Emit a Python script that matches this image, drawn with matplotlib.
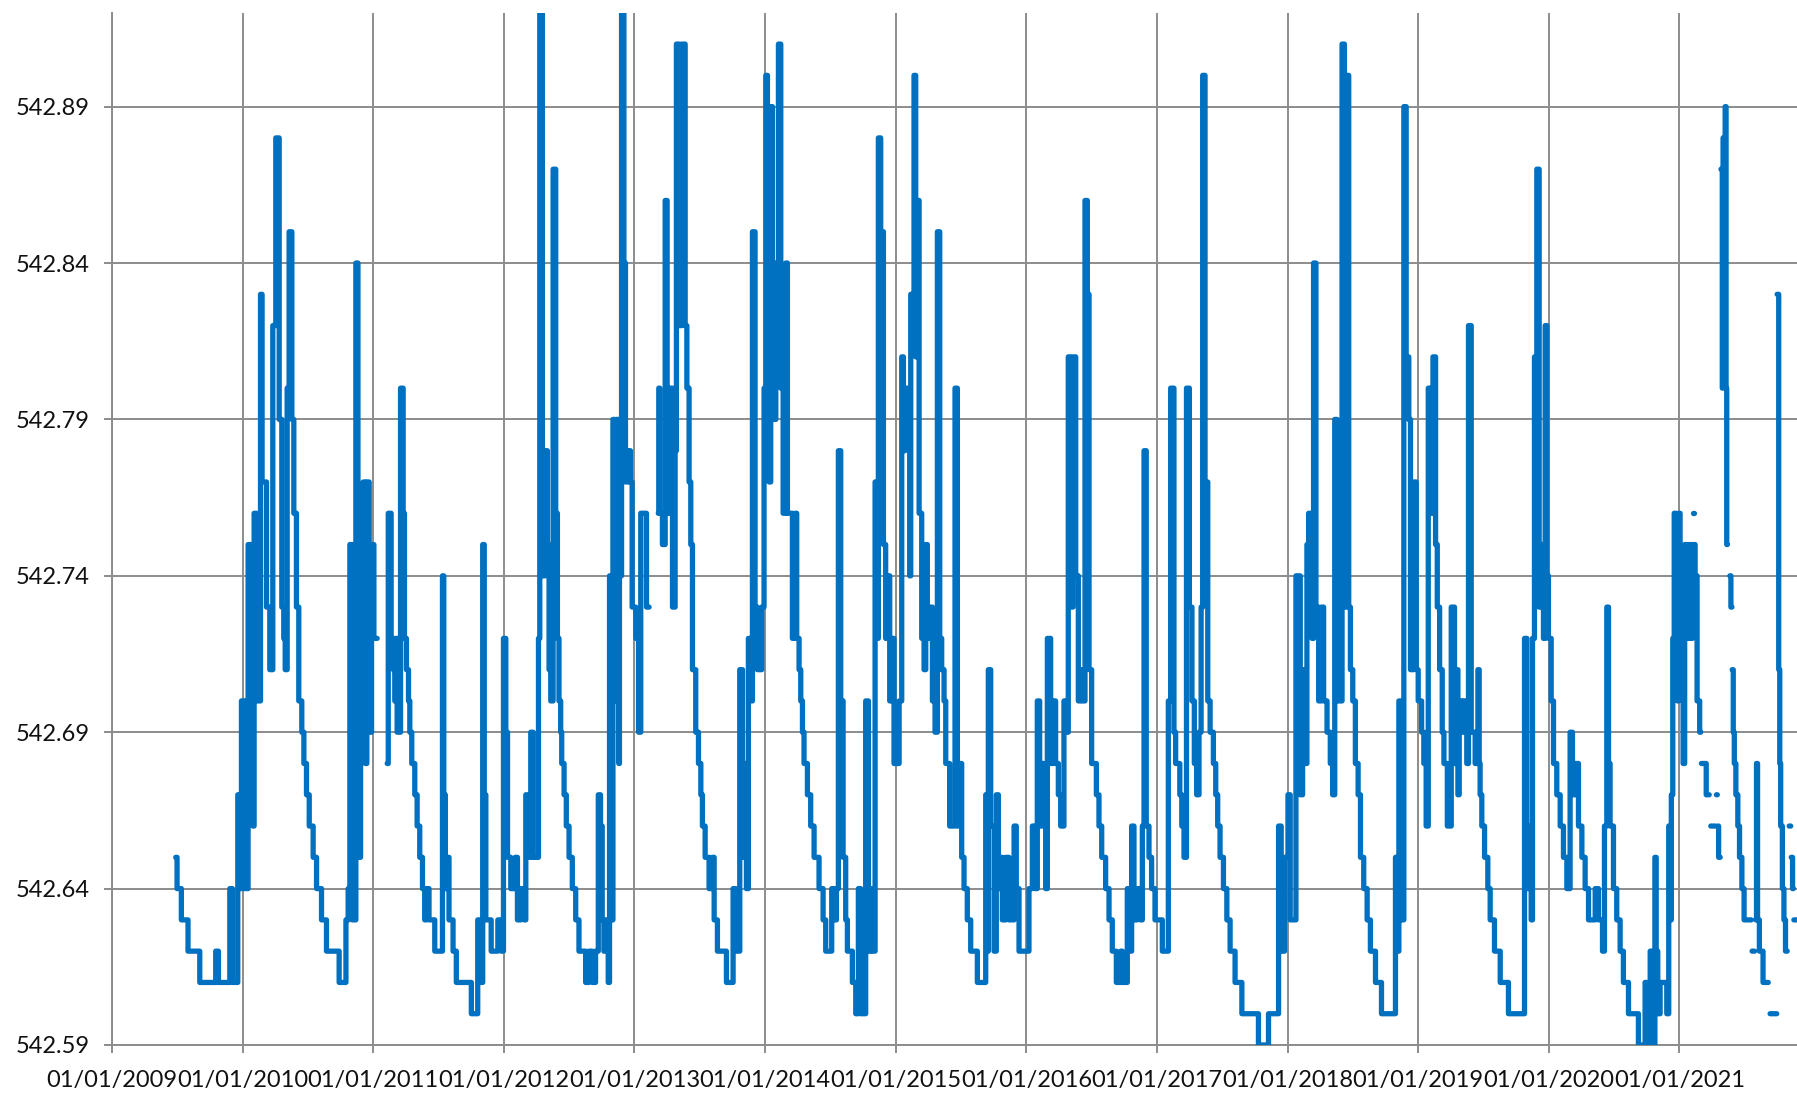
import numpy as np
import matplotlib.pyplot as plt

# water level readings: (decimal year, level in m); None = no data
y2009 = [(2009.488, 542.65), (2009.498, 542.64), (2009.531, 542.63), (2009.582, 542.62),
         (2009.672, 542.61), (2009.794, 542.62), (2009.815, 542.61), (2009.902, 542.64),
         (2009.922, 542.61), (2009.963, 542.67), (2009.978, 542.64), (2009.991, 542.70)]

y2010 = [(2010.004, 542.64), (2010.019, 542.70), (2010.032, 542.64), (2010.042, 542.75),
         (2010.060, 542.67), (2010.078, 542.66), (2010.088, 542.76), (2010.106, 542.70),
         (2010.137, 542.83), (2010.149, 542.77), (2010.183, 542.73), (2010.208, 542.71),
         (2010.231, 542.82), (2010.254, 542.88), (2010.280, 542.79), (2010.300, 542.73),
         (2010.315, 542.72), (2010.326, 542.71), (2010.341, 542.80), (2010.356, 542.85),
         (2010.377, 542.79), (2010.392, 542.76), (2010.412, 542.73), (2010.430, 542.70),
         (2010.453, 542.69), (2010.469, 542.68), (2010.489, 542.67), (2010.510, 542.66),
         (2010.540, 542.65), (2010.566, 542.64), (2010.604, 542.63), (2010.642, 542.62),
         (2010.739, 542.61), (2010.791, 542.63), (2010.808, 542.64), (2010.821, 542.75),
         (2010.839, 542.63), (2010.867, 542.84), (2010.883, 542.65), (2010.903, 542.75),
         (2010.923, 542.77), (2010.939, 542.68), (2010.951, 542.77), (2010.969, 542.69),
         (2010.987, 542.72)]

y2011 = [(2011.000, 542.75), (2011.005, 542.72), (2011.030, None), (2011.107, 542.68),
         (2011.115, 542.76), (2011.137, 542.72), (2011.153, 542.71), (2011.165, 542.70),
         (2011.173, 542.72), (2011.183, 542.69), (2011.209, 542.80), (2011.229, 542.76),
         (2011.239, 542.72), (2011.254, 542.71), (2011.270, 542.70), (2011.280, 542.69),
         (2011.295, 542.68), (2011.318, 542.67), (2011.336, 542.66), (2011.356, 542.65),
         (2011.377, 542.64), (2011.394, 542.63), (2011.407, 542.64), (2011.427, 542.63),
         (2011.471, 542.62), (2011.530, 542.74), (2011.540, 542.67), (2011.552, 542.64),
         (2011.565, 542.65), (2011.580, 542.63), (2011.611, 542.62), (2011.636, 542.61),
         (2011.751, 542.60), (2011.800, 542.63), (2011.822, 542.61), (2011.838, 542.75),
         (2011.850, 542.67), (2011.862, 542.63), (2011.903, 542.62), (2011.954, 542.63),
         (2011.980, 542.62), (2011.997, 542.72)]

y2012 = [(2012.015, 542.69), (2012.028, 542.65), (2012.053, 542.64), (2012.087, 542.65),
         (2012.104, 542.63), (2012.130, 542.64), (2012.155, 542.63), (2012.168, 542.67),
         (2012.188, 542.65), (2012.206, 542.69), (2012.224, 542.65), (2012.265, 542.72),
         (2012.275, 542.95), (2012.295, 542.74), (2012.316, 542.78), (2012.333, 542.75),
         (2012.346, 542.71), (2012.359, 542.70), (2012.377, 542.87), (2012.397, 542.76),
         (2012.410, 542.72), (2012.422, 542.70), (2012.435, 542.69), (2012.443, 542.68),
         (2012.461, 542.67), (2012.478, 542.66), (2012.499, 542.65), (2012.524, 542.64),
         (2012.550, 542.63), (2012.575, 542.62), (2012.626, 542.61), (2012.651, 542.62),
         (2012.677, 542.61), (2012.702, 542.62), (2012.723, 542.67), (2012.740, 542.66),
         (2012.753, 542.63), (2012.766, 542.62), (2012.784, 542.63), (2012.799, 542.61),
         (2012.809, 542.74), (2012.824, 542.63), (2012.835, 542.79), (2012.850, 542.70),
         (2012.860, 542.79), (2012.880, 542.68), (2012.885, 542.74), (2012.901, 542.95),
         (2012.919, 542.84), (2012.931, 542.77), (2012.957, 542.78), (2012.969, 542.77),
         (2012.982, 542.73)]

y2013 = [(2013.010, 542.72), (2013.031, 542.69), (2013.048, 542.76), (2013.092, 542.73),
         (2013.112, None), (2013.182, 542.76),
         (2013.186, 542.80), (2013.194, 542.76), (2013.214, 542.75), (2013.235, 542.86),
         (2013.250, 542.76), (2013.270, 542.80), (2013.291, 542.73), (2013.311, 542.78),
         (2013.321, 542.91), (2013.342, 542.82), (2013.362, 542.91), (2013.388, 542.82),
         (2013.401, 542.80), (2013.418, 542.77), (2013.431, 542.75), (2013.444, 542.71),
         (2013.469, 542.69), (2013.490, 542.68), (2013.508, 542.67), (2013.520, 542.66),
         (2013.541, 542.65), (2013.571, 542.64), (2013.597, 542.65), (2013.610, 542.63),
         (2013.635, 542.62), (2013.704, 542.61), (2013.755, 542.64), (2013.776, 542.62),
         (2013.806, 542.71), (2013.827, 542.65), (2013.847, 542.68), (2013.857, 542.64),
         (2013.872, 542.72), (2013.890, 542.70), (2013.903, 542.85), (2013.923, 542.73),
         (2013.941, 542.71), (2013.974, 542.73), (2013.992, 542.80)]

y2014 = [(2014.005, 542.90), (2014.018, 542.78), (2014.031, 542.77), (2014.043, 542.89),
         (2014.056, 542.79), (2014.082, 542.84), (2014.102, 542.91), (2014.120, 542.80),
         (2014.138, 542.76), (2014.158, 542.84), (2014.171, 542.76), (2014.209, 542.72),
         (2014.230, 542.76), (2014.242, 542.72), (2014.260, 542.71), (2014.273, 542.70),
         (2014.286, 542.69), (2014.298, 542.68), (2014.324, 542.67), (2014.349, 542.66),
         (2014.375, 542.65), (2014.413, 542.64), (2014.444, 542.63), (2014.464, 542.62),
         (2014.510, 542.64), (2014.528, 542.63), (2014.546, 542.64), (2014.561, 542.78),
         (2014.579, 542.70), (2014.597, 542.65), (2014.617, 542.63), (2014.630, 542.62),
         (2014.668, 542.61), (2014.694, 542.60), (2014.714, 542.64), (2014.732, 542.60),
         (2014.770, 542.70), (2014.791, 542.62), (2014.809, 542.64), (2014.821, 542.62),
         (2014.842, 542.77), (2014.852, 542.72), (2014.867, 542.88), (2014.885, 542.85),
         (2014.906, 542.75), (2014.923, 542.72), (2014.944, 542.74), (2014.954, 542.70),
         (2014.974, 542.72), (2014.987, 542.68)]

y2015 = [(2015.026, 542.70), (2015.046, 542.81), (2015.059, 542.78), (2015.071, 542.80),
         (2015.089, 542.79), (2015.107, 542.74), (2015.115, 542.83), (2015.140, 542.90),
         (2015.153, 542.81), (2015.166, 542.86), (2015.179, 542.76), (2015.199, 542.72),
         (2015.217, 542.71), (2015.230, 542.75), (2015.242, 542.73), (2015.255, 542.72),
         (2015.268, 542.73), (2015.281, 542.70), (2015.301, 542.69), (2015.319, 542.85),
         (2015.337, 542.72), (2015.352, 542.71), (2015.370, 542.70), (2015.383, 542.68),
         (2015.413, 542.66), (2015.454, 542.80), (2015.472, 542.66), (2015.490, 542.68),
         (2015.505, 542.65), (2015.523, 542.64), (2015.548, 542.63), (2015.574, 542.62),
         (2015.625, 542.61), (2015.689, 542.67), (2015.702, 542.62), (2015.709, 542.71),
         (2015.727, 542.66), (2015.753, 542.62), (2015.770, 542.67), (2015.786, 542.64),
         (2015.804, 542.65), (2015.816, 542.63), (2015.842, 542.65), (2015.867, 542.63),
         (2015.906, 542.66), (2015.923, 542.64), (2015.944, 542.62)]

y2016 = [(2016.020, 542.64), (2016.046, 542.66), (2016.066, 542.64), (2016.084, 542.70),
         (2016.102, 542.66), (2016.117, 542.68), (2016.135, 542.66), (2016.148, 542.64),
         (2016.161, 542.72), (2016.186, 542.68), (2016.204, 542.70), (2016.224, 542.68),
         (2016.245, 542.67), (2016.263, 542.66), (2016.288, 542.70), (2016.306, 542.69),
         (2016.321, 542.81), (2016.339, 542.73), (2016.357, 542.81), (2016.378, 542.74),
         (2016.398, 542.70), (2016.416, 542.71), (2016.429, 542.70), (2016.449, 542.86),
         (2016.467, 542.83), (2016.480, 542.71), (2016.500, 542.68), (2016.536, 542.67),
         (2016.556, 542.66), (2016.577, 542.65), (2016.607, 542.64), (2016.633, 542.63),
         (2016.658, 542.62), (2016.689, 542.61), (2016.722, 542.62), (2016.735, 542.61),
         (2016.773, 542.64), (2016.791, 542.62), (2016.806, 542.66), (2016.824, 542.63),
         (2016.849, 542.64), (2016.875, 542.63), (2016.888, 542.66), (2016.901, 542.78),
         (2016.918, 542.66), (2016.939, 542.65), (2016.959, 542.64), (2016.985, 542.63)]

y2017 = [(2017.041, 542.62), (2017.087, 542.70), (2017.105, 542.80), (2017.130, 542.69),
         (2017.143, 542.68), (2017.163, 542.68), (2017.175, 542.67), (2017.190, 542.66),
         (2017.207, 542.65), (2017.226, 542.80), (2017.248, 542.73), (2017.268, 542.70),
         (2017.286, 542.68), (2017.304, 542.67), (2017.322, 542.69), (2017.338, 542.73),
         (2017.350, 542.90), (2017.368, 542.77), (2017.389, 542.70), (2017.407, 542.69),
         (2017.432, 542.68), (2017.450, 542.67), (2017.465, 542.66), (2017.483, 542.65),
         (2017.509, 542.64), (2017.535, 542.63), (2017.560, 542.62), (2017.598, 542.61),
         (2017.650, 542.60), (2017.777, 542.59), (2017.854, 542.60), (2017.931, 542.66),
         (2017.951, 542.62), (2017.977, 542.65)]

y2018 = [(2018.003, 542.67), (2018.020, 542.63), (2018.064, 542.74), (2018.097, 542.67),
         (2018.115, 542.71), (2018.130, 542.68), (2018.148, 542.75), (2018.161, 542.76),
         (2018.187, 542.72), (2018.199, 542.84), (2018.217, 542.73), (2018.238, 542.70),
         (2018.258, 542.73), (2018.276, 542.70), (2018.302, 542.69), (2018.327, 542.68),
         (2018.345, 542.67), (2018.361, 542.79), (2018.379, 542.70), (2018.417, 542.91),
         (2018.435, 542.73), (2018.450, 542.90), (2018.468, 542.73), (2018.481, 542.71),
         (2018.499, 542.70), (2018.519, 542.68), (2018.540, 542.67), (2018.558, 542.65),
         (2018.583, 542.64), (2018.609, 542.63), (2018.634, 542.62), (2018.673, 542.61),
         (2018.719, 542.60), (2018.826, 542.65), (2018.839, 542.62), (2018.852, 542.70),
         (2018.872, 542.63), (2018.890, 542.89), (2018.908, 542.81), (2018.928, 542.79),
         (2018.941, 542.71), (2018.967, 542.77), (2018.985, 542.71)]

y2019 = [(2019.000, 542.70), (2019.026, 542.69), (2019.043, 542.68), (2019.061, 542.66),
         (2019.077, 542.80), (2019.095, 542.76), (2019.113, 542.81), (2019.133, 542.75),
         (2019.146, 542.73), (2019.164, 542.71), (2019.184, 542.69), (2019.197, 542.68),
         (2019.223, 542.66), (2019.253, 542.73), (2019.278, 542.68), (2019.289, 542.71),
         (2019.304, 542.67), (2019.314, 542.70), (2019.334, 542.69), (2019.347, 542.70),
         (2019.372, 542.68), (2019.385, 542.82), (2019.406, 542.69), (2019.436, 542.68),
         (2019.457, 542.71), (2019.467, 542.68), (2019.474, 542.67), (2019.487, 542.66),
         (2019.508, 542.65), (2019.533, 542.64), (2019.551, 542.63), (2019.584, 542.62),
         (2019.628, 542.61), (2019.691, 542.60), (2019.814, 542.72), (2019.832, 542.64),
         (2019.845, 542.66), (2019.865, 542.63), (2019.875, 542.72), (2019.890, 542.81),
         (2019.908, 542.87), (2019.926, 542.73), (2019.941, 542.75), (2019.959, 542.72),
         (2019.972, 542.82), (2019.985, 542.74), (2019.997, 542.72)]

y2020 = [(2020.018, 542.70), (2020.036, 542.68), (2020.061, 542.67), (2020.087, 542.66),
         (2020.112, 542.65), (2020.138, 542.64), (2020.163, 542.69), (2020.181, 542.67),
         (2020.202, 542.68), (2020.227, 542.66), (2020.253, 542.65), (2020.278, 542.64),
         (2020.304, 542.63), (2020.355, 542.64), (2020.380, 542.63), (2020.411, 542.62),
         (2020.426, 542.66), (2020.444, 542.73), (2020.457, 542.68), (2020.469, 542.66),
         (2020.495, 542.64), (2020.520, 542.63), (2020.546, 542.62), (2020.571, 542.61),
         (2020.610, 542.60), (2020.686, 542.59), (2020.737, 542.61), (2020.750, 542.59),
         (2020.776, 542.62), (2020.793, 542.59), (2020.812, 542.65), (2020.822, 542.62),
         (2020.834, 542.60), (2020.852, 542.61), (2020.903, 542.60), (2020.918, 542.66),
         (2020.930, 542.63), (2020.938, 542.67), (2020.949, 542.72), (2020.960, 542.76),
         (2020.975, 542.72), (2020.985, 542.70), (2020.993, 542.76)]

y2021 = [(2021.005, 542.73), (2021.013, 542.71), (2021.028, 542.68), (2021.040, 542.75),
         (2021.060, 542.72), (2021.072, 542.75), (2021.088, 542.72), (2021.100, 542.75),
         (2021.120, 542.74), (2021.135, 542.70), (2021.155, 542.69), (2021.163, None),
         (2021.168, 542.68), (2021.205, 542.67), (2021.228, None), (2021.240, 542.66),
         (2021.275, None), (2021.283, 542.67), (2021.290, None), (2021.295, 542.66),
         (2021.300, 542.65), (2021.312, None), (2021.318, 542.87), (2021.328, 542.80),
         (2021.334, 542.88), (2021.342, 542.82), (2021.350, 542.89), (2021.357, 542.80),
         (2021.362, 542.75), (2021.367, None), (2021.386, 542.74), (2021.394, 542.73),
         (2021.402, None), (2021.404, 542.71), (2021.412, 542.69), (2021.420, 542.68),
         (2021.432, 542.67), (2021.447, 542.66), (2021.460, 542.65), (2021.478, 542.64),
         (2021.495, 542.63), (2021.550, None), (2021.556, 542.62), (2021.575, None),
         (2021.585, 542.63), (2021.590, 542.68), (2021.598, 542.63), (2021.612, 542.62),
         (2021.640, 542.61), (2021.680, None), (2021.694, 542.60), (2021.745, None),
         (2021.748, 542.83), (2021.760, 542.71), (2021.768, 542.68), (2021.775, 542.66),
         (2021.788, 542.64), (2021.800, 542.63), (2021.812, 542.62), (2021.825, None),
         (2021.840, 542.66), (2021.852, None), (2021.856, 542.65), (2021.866, 542.64),
         (2021.872, None), (2021.876, 542.63), (2021.900, 542.63)]

# short isolated reading in 2021
stray_t = [2021.101, 2021.113]
stray_v = [542.76, 542.76]

years = list(range(2009, 2022))
xlabels = ['01/01/%d' % y for y in years]
yticks = [542.59, 542.64, 542.69, 542.74, 542.79, 542.84, 542.89]

series = y2009 + y2010 + y2011 + y2012 + y2013 + y2014 + y2015 + y2016 + \
    y2017 + y2018 + y2019 + y2020 + y2021
t = np.array([p[0] for p in series])
v = np.array([np.nan if p[1] is None else p[1] for p in series])

plt.rcParams['font.family'] = ['Lato', 'DejaVu Sans']

W, H = 1797, 1095
fig = plt.figure(figsize=(W / 100, H / 100), dpi=100)
ax = fig.add_axes([112 / W, 50 / H, 1 - 112 / W, (1045 - 12.8) / H])

grid_c = '#8c8c8c'
blue = '#0070C0'

ax.plot(t, v, color=blue, lw=3.8, drawstyle='steps-post',
        solid_capstyle='round', solid_joinstyle='round', zorder=3)
ax.plot(stray_t, stray_v, color=blue, lw=3.8, solid_capstyle='round', zorder=3)

ax.set_xlim(2009.0, 2021.9)
ax.set_ylim(542.59, 542.92)
ax.set_xticks(years)
ax.set_xticklabels(xlabels)
ax.set_yticks(yticks)
ax.set_yticklabels(['%.2f' % y for y in yticks])

ax.grid(True, color=grid_c, lw=1.4)
ax.set_axisbelow(True)
for s in ['top', 'right']:
    ax.spines[s].set_visible(False)
for s in ['left', 'bottom']:
    ax.spines[s].set_color(grid_c)
    ax.spines[s].set_linewidth(1.4)

ax.tick_params(axis='both', length=6, width=1.4, color=grid_c,
               labelsize=17, labelcolor='#111111')
ax.tick_params(axis='y', pad=10)
ax.tick_params(axis='x', pad=12)

fig.savefig('out.png', dpi=100)
